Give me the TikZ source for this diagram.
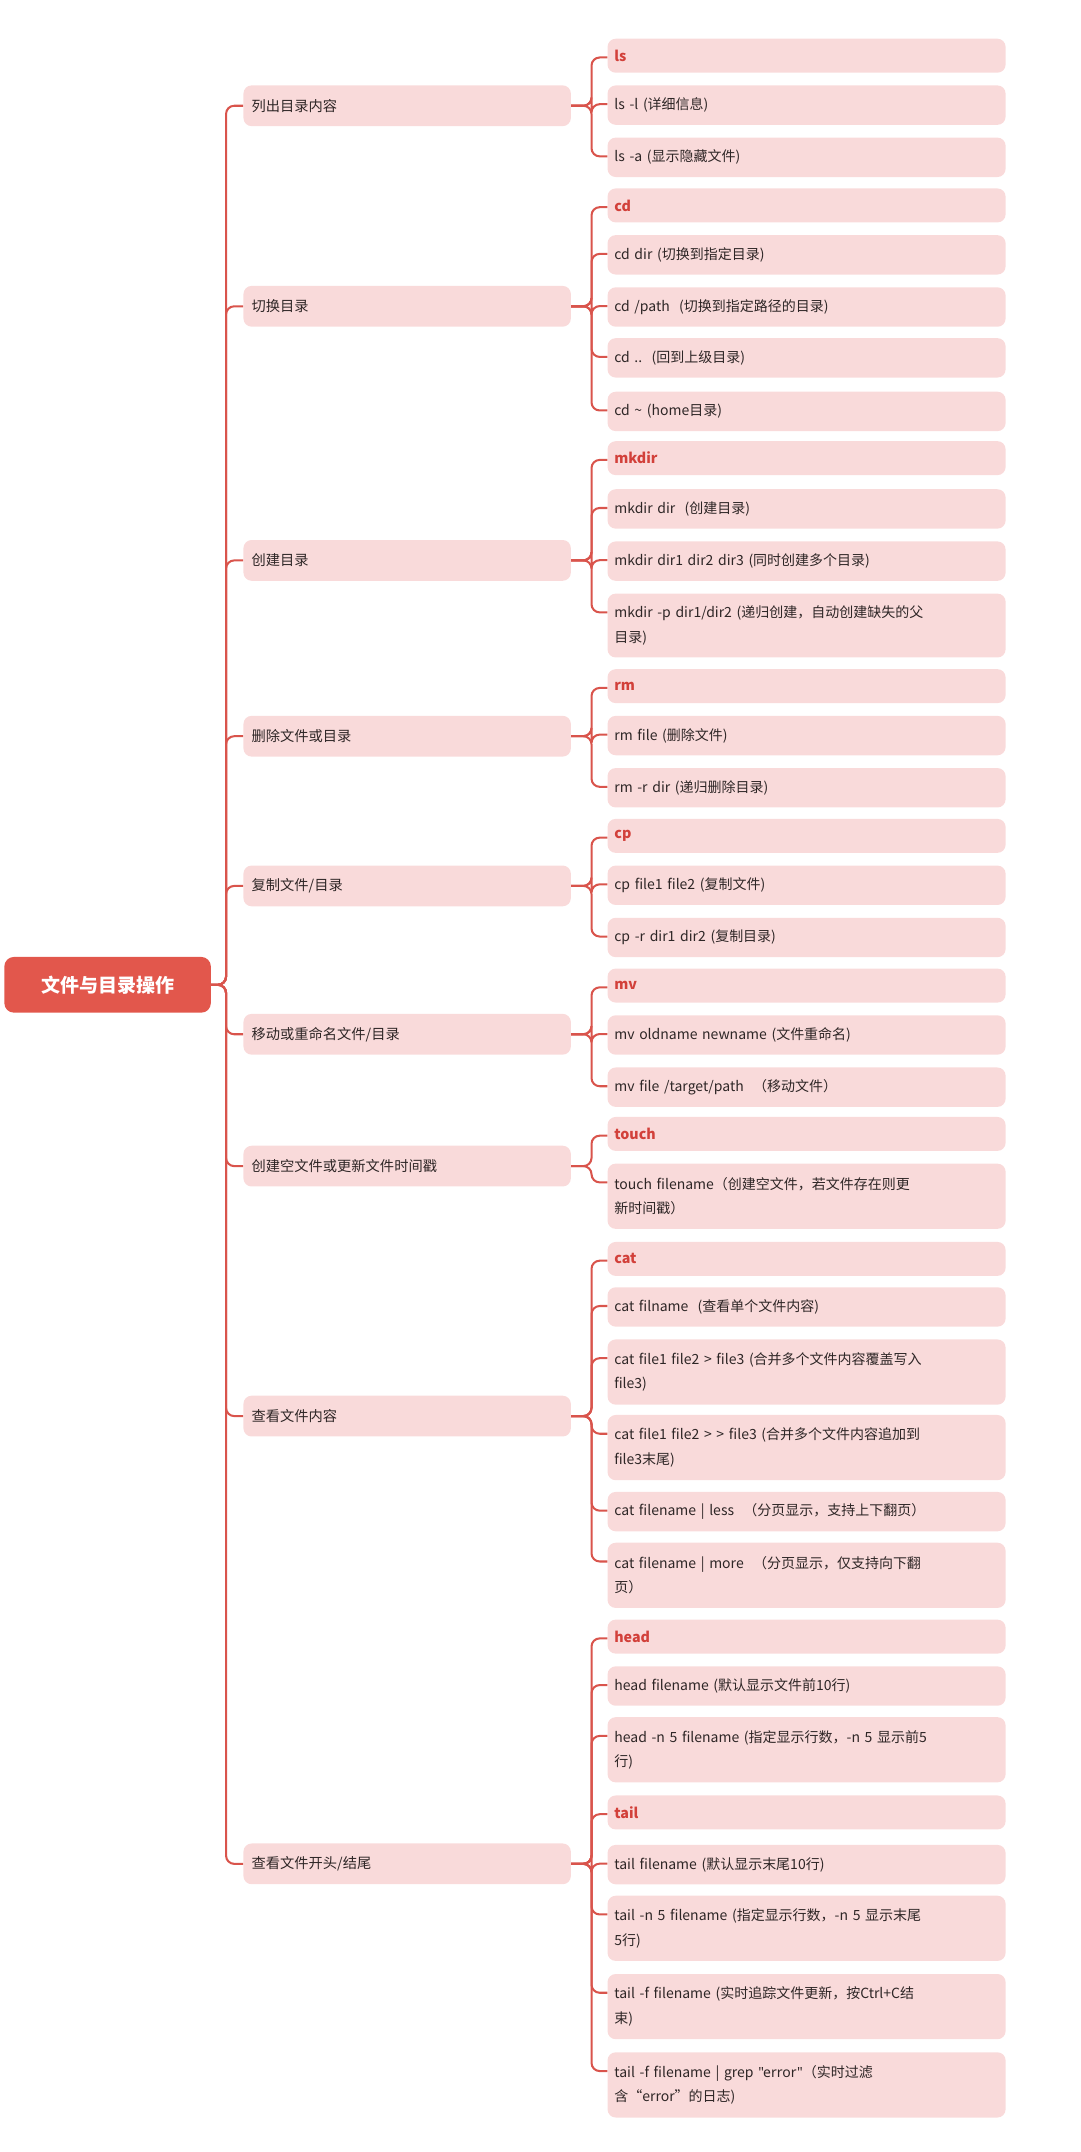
\documentclass[tikz,border=0pt]{standalone}
\usepackage{fontspec}
\setmainfont{Noto Sans CJK SC}
\newfontfamily\lat{Noto Sans}
\usetikzlibrary{calc}
\definecolor{boxc}{HTML}{F9DADA}
\definecolor{linec}{HTML}{D9544C}
\definecolor{rootc}{HTML}{E2574C}
\definecolor{headc}{HTML}{D2403A}
\definecolor{txtc}{HTML}{2E2626}
\tikzset{
 conn/.style={draw=linec,line width=1.5pt,rounded corners=6pt},
 l1box/.style={fill=boxc,rounded corners=6pt,anchor=west,minimum width=241pt,minimum height=30pt,text width=229pt,align=left,inner xsep=6pt,font=\fontsize{10.5pt}{12pt}\selectfont,text=txtc},
 l2box/.style={fill=boxc,rounded corners=6pt,anchor=north west,minimum width=293pt,text width=283pt,align=left,inner xsep=5pt,inner ysep=0pt,font=\fontsize{10.3pt}{18pt}\selectfont,text=txtc},
 hd/.style={font=\fontsize{10.5pt}{12pt}\selectfont\bfseries,text=headc},
}
\newcommand\leaf[6][]{%
 \node[l2box,minimum height=#5pt,#1] (#2) at (447,-#4) {#6};
 \draw[conn] (#3.east) -- ++(15pt,0) |- ($(#2.north west)+(0,-14pt)$);}
\newcommand\branch[3]{%
 \node[l1box] (#1) at (179,-#2) {#3};
 \draw[conn] (root.east) -- ++(11pt,0) |- (#1.west);}
\begin{document}
\begin{tikzpicture}[x=1pt,y=1.011pt]
\useasboundingbox (0,0) rectangle (795,-1566.8);
\node[fill=rootc,rounded corners=7pt,minimum width=152pt,minimum height=41pt,text=white,font=\fontsize{14pt}{16pt}\selectfont\bfseries,anchor=west] (root) at (3,-717) {文件与目录操作};
\branch{a}{77}{列出目录内容}
\branch{b}{223}{切换目录}
\branch{c}{408}{创建目录}
\branch{d}{536}{删除文件或目录}
\branch{e}{645}{复制文件/目录}
\branch{f}{753}{移动或重命名文件/目录}
\branch{g}{849}{创建空文件或更新文件时间戳}
\branch{h}{1031}{查看文件内容}
\branch{i}{1357}{查看文件开头/结尾}
\leaf[hd]{a1}{a}{28}{25}{ls}
\leaf{a2}{a}{62}{29}{ls -l (详细信息)}
\leaf{a3}{a}{100}{29}{ls -a (显示隐藏文件)}
\leaf[hd]{b1}{b}{137}{25}{cd}
\leaf{b2}{b}{171}{29}{cd dir (切换到指定目录)}
\leaf{b3}{b}{209}{29}{cd /path\ \ (切换到指定路径的目录)}
\leaf{b4}{b}{246}{29}{cd ..\ \ (回到上级目录)}
\leaf{b5}{b}{285}{29}{cd \textasciitilde\ (home目录)}
\leaf[hd]{c1}{c}{321}{25}{mkdir}
\leaf{c2}{c}{356}{29}{mkdir dir\ \ (创建目录)}
\leaf{c3}{c}{394}{29}{mkdir dir1 dir2 dir3 (同时创建多个目录)}
\leaf{c4}{c}{432}{47}{mkdir -p dir1/dir2 (递归创建，自动创建缺失的父\\目录)}
\leaf[hd]{d1}{d}{487}{25}{rm}
\leaf{d2}{d}{521}{29}{rm file (删除文件)}
\leaf{d3}{d}{559}{29}{rm -r dir (递归删除目录)}
\leaf[hd]{e1}{e}{596}{25}{cp}
\leaf{e2}{e}{630}{29}{cp file1 file2 (复制文件)}
\leaf{e3}{e}{668}{29}{cp -r dir1 dir2 (复制目录)}
\leaf[hd]{f1}{f}{705}{25}{mv}
\leaf{f2}{f}{739}{29}{mv oldname newname (文件重命名)}
\leaf{f3}{f}{777}{29}{mv file /target/path\ \ （移动文件）}
\leaf[hd]{g1}{g}{813}{25}{touch}
\leaf{g2}{g}{847}{48}{touch filename（创建空文件，若文件存在则更\\新时间戳）}
\leaf[hd]{h1}{h}{904}{25}{cat}
\leaf{h2}{h}{937}{29}{cat filname\ \ (查看单个文件内容)}
\leaf{h3}{h}{975}{48}{cat file1 file2 > file3 (合并多个文件内容覆盖写入\\file3)}
\leaf{h4}{h}{1030}{48}{cat file1 file2 > > file3 (合并多个文件内容追加到\\file3末尾)}
\leaf{h5}{h}{1086}{29}{cat filename | less\ \ （分页显示，支持上下翻页）}
\leaf{h6}{h}{1123}{48}{cat filename | more\ \ （分页显示，仅支持向下翻\\页）}
\leaf[hd]{i1}{i}{1179}{25}{head}
\leaf{i2}{i}{1213}{29}{head filename (默认显示文件前10行)}
\leaf{i3}{i}{1250}{48}{head -n 5 filename (指定显示行数，-n 5 显示前5\\行)}
\leaf[hd]{i4}{i}{1307}{25}{tail}
\leaf{i5}{i}{1343}{29}{tail filename (默认显示末尾10行)}
\leaf{i6}{i}{1380}{48}{tail -n 5 filename (指定显示行数，-n 5 显示末尾\\5行)}
\leaf{i7}{i}{1437}{48}{tail -f filename (实时追踪文件更新，按Ctrl+C结\\束)}
\leaf{i8}{i}{1494}{48}{tail -f filename | grep {\lat"error"}（实时过滤\\含“error”的日志)}
\end{tikzpicture}
\end{document}
